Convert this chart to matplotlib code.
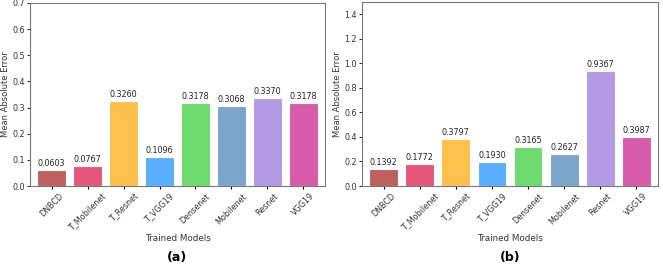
import numpy as np
import matplotlib.pyplot as plt

models = ['DNBCD', 'T_Mobilenet', 'T_Resnet', 'T_VGG19', 'Densenet', 'Mobilenet', 'Resnet', 'VGG19']
mae_a = [0.0603, 0.0767, 0.3260, 0.1096, 0.3178, 0.3068, 0.3370, 0.3178]
mae_b = [0.1392, 0.1772, 0.3797, 0.1930, 0.3165, 0.2627, 0.9367, 0.3987]
colors = ['#c0605e', '#e5567a', '#ffc04c', '#5aaeff', '#6ddb6d', '#7aa6cc', '#b39ae4', '#d75ba9']

fig = plt.figure(figsize=(6.63, 2.71), dpi=100)
ax_a = fig.add_axes([30/663, 1-186/271, 295/663, 183/271])
ax_b = fig.add_axes([362/663, 1-186/271, 296/663, 184/271])

def draw(ax, vals, ymax, yticks, label):
    x = np.arange(len(models))
    bars = ax.bar(x, vals, width=0.8, color=colors, edgecolor='white', linewidth=0.8)
    for b, v in zip(bars, vals):
        ax.text(b.get_x() + b.get_width()/2, v + ymax*0.012, f'{v:.4f}',
                ha='center', va='bottom', fontsize=5.8, color='#222222')
    ax.set_xticks(x)
    ax.set_xticklabels(models, rotation=45, fontsize=5.8, color='#333333')
    ax.set_yticks(yticks)
    ax.tick_params(axis='y', labelsize=5.8, colors='#333333', length=2, pad=1.5)
    ax.tick_params(axis='x', length=2, pad=2)
    ax.set_ylim(0, ymax)
    ax.set_xlim(-0.6, len(models) - 0.4)
    ax.set_ylabel('Mean Absolute Error', fontsize=6, color='#333333', labelpad=1.5)
    ax.set_xlabel('Trained Models', fontsize=6.3, color='#333333', labelpad=1)
    for s in ax.spines.values():
        s.set_color('#777777')
    pos = ax.get_position()
    fig.text(pos.x0 + pos.width/2, 1 - 258/271, label, ha='center', va='center',
             fontsize=9, fontweight='bold')

draw(ax_a, mae_a, 0.7, np.arange(0, 0.71, 0.1), '(a)')
draw(ax_b, mae_b, 1.5, np.arange(0, 1.41, 0.2), '(b)')

fig.savefig('out.png', dpi=100)
